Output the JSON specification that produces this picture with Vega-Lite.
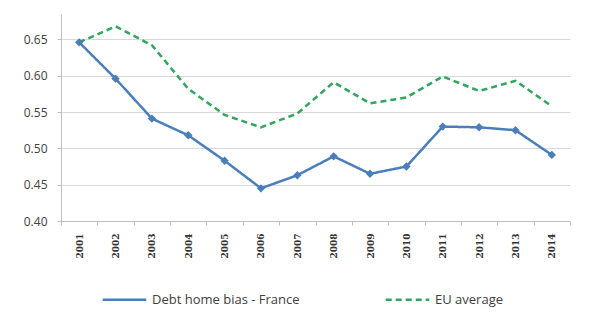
{
  "$schema": "https://vega.github.io/schema/vega-lite/v6.json",
  "autosize": "none",
  "width": 509,
  "height": 207,
  "padding": {"left": 61, "top": 14, "right": 19, "bottom": 104},
  "background": "white",
  "config": {
    "view": {"stroke": null},
    "font": "Open Sans"
  },
  "data": {
    "values": [
      {"year": "2001", "series": "Debt home bias - France", "value": 0.646},
      {"year": "2002", "series": "Debt home bias - France", "value": 0.596},
      {"year": "2003", "series": "Debt home bias - France", "value": 0.541},
      {"year": "2004", "series": "Debt home bias - France", "value": 0.518},
      {"year": "2005", "series": "Debt home bias - France", "value": 0.483},
      {"year": "2006", "series": "Debt home bias - France", "value": 0.445},
      {"year": "2007", "series": "Debt home bias - France", "value": 0.463},
      {"year": "2008", "series": "Debt home bias - France", "value": 0.489},
      {"year": "2009", "series": "Debt home bias - France", "value": 0.465},
      {"year": "2010", "series": "Debt home bias - France", "value": 0.475},
      {"year": "2011", "series": "Debt home bias - France", "value": 0.530},
      {"year": "2012", "series": "Debt home bias - France", "value": 0.529},
      {"year": "2013", "series": "Debt home bias - France", "value": 0.525},
      {"year": "2014", "series": "Debt home bias - France", "value": 0.491},
      {"year": "2001", "series": "EU average", "value": 0.646},
      {"year": "2002", "series": "EU average", "value": 0.668},
      {"year": "2003", "series": "EU average", "value": 0.642},
      {"year": "2004", "series": "EU average", "value": 0.582},
      {"year": "2005", "series": "EU average", "value": 0.546},
      {"year": "2006", "series": "EU average", "value": 0.529},
      {"year": "2007", "series": "EU average", "value": 0.548},
      {"year": "2008", "series": "EU average", "value": 0.591},
      {"year": "2009", "series": "EU average", "value": 0.562},
      {"year": "2010", "series": "EU average", "value": 0.570},
      {"year": "2011", "series": "EU average", "value": 0.599},
      {"year": "2012", "series": "EU average", "value": 0.579},
      {"year": "2013", "series": "EU average", "value": 0.593},
      {"year": "2014", "series": "EU average", "value": 0.558}
    ]
  },
  "encoding": {
    "x": {
      "field": "year",
      "type": "ordinal",
      "scale": {"type": "band", "paddingInner": 0, "paddingOuter": 0},
      "axis": {
        "title": null,
        "labelAngle": 270,
        "labelFontSize": 9,
        "labelFontWeight": "bold",
        "labelFont": "DejaVu Serif",
        "labelColor": "#333333",
        "labelPadding": 8,
        "tickBand": "extent",
        "tickSize": 4,
        "tickColor": "#BFBFBF",
        "domainColor": "#BFBFBF",
        "grid": false
      }
    },
    "y": {
      "field": "value",
      "type": "quantitative",
      "scale": {"domain": [0.4, 0.685], "nice": false, "zero": false},
      "axis": {
        "title": null,
        "values": [0.4, 0.45, 0.5, 0.55, 0.6, 0.65],
        "format": ".2f",
        "labelFontSize": 12,
        "labelColor": "#404040",
        "labelPadding": 10,
        "tickSize": 4,
        "tickColor": "#BFBFBF",
        "domainColor": "#BFBFBF",
        "gridColor": "#D9D9D9"
      }
    },
    "color": {
      "field": "series",
      "type": "nominal",
      "scale": {"domain": ["Debt home bias - France", "EU average"], "range": ["#4A7EBB", "#2FA55E"]},
      "legend": {
        "title": null,
        "orient": "none",
        "legendX": 40,
        "legendY": 262,
        "direction": "horizontal",
        "symbolType": "stroke",
        "symbolSize": 1900,
        "symbolStrokeWidth": 2.5,
        "columnPadding": 80,
        "labelFontSize": 13,
        "labelColor": "#404040",
        "labelOffset": 4
      }
    },
    "strokeDash": {
      "field": "series",
      "type": "nominal",
      "scale": {"domain": ["Debt home bias - France", "EU average"], "range": [[1, 0], [6, 4]]},
      "legend": null
    }
  },
  "layer": [
    {"mark": {"type": "line", "strokeWidth": 2.5}},
    {
      "transform": [{"filter": "datum.series === 'Debt home bias - France'"}],
      "mark": {"type": "point", "shape": "diamond", "filled": true, "size": 70, "opacity": 1},
      "encoding": {"strokeDash": {"value": [1, 0]}}
    }
  ]
}
